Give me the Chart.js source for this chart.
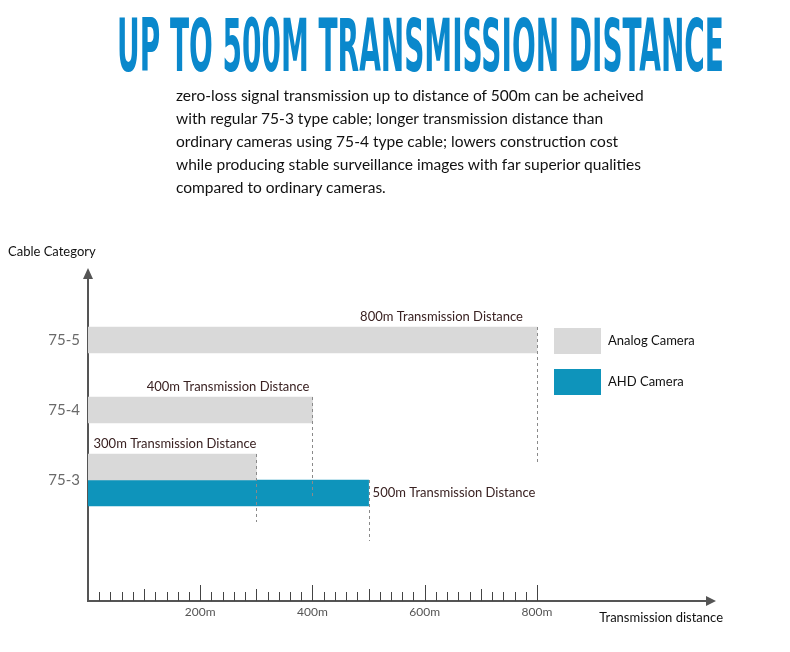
<!DOCTYPE html>
<html>
<head>
<meta charset="utf-8">
<script src="https://cdn.jsdelivr.net/npm/chart.js@4.4.1/dist/chart.umd.min.js"></script>
<style>
  html, body { margin: 0; padding: 0; background: #fff; }
  #page { position: relative; width: 790px; height: 652px; overflow: hidden; }
  #chart { position: absolute; left: 0; top: 0; }
  #headline {
    position: absolute; left: 117px; top: 9px; white-space: nowrap;
    font: bold 73px 'Liberation Sans Narrow', 'DejaVu Sans Condensed', sans-serif;
    line-height: 73px; color: #0a88cc;
    transform-origin: 0 0;
  }
  #blurb { position: absolute; left: 176px; top: 84px; color: #111; font-family: Lato, sans-serif; }
  #blurb div { white-space: nowrap; height: 23px; line-height: 23px; }
</style>
</head>
<body>
<div id="page">
  <canvas id="chart" width="790" height="652"></canvas>
  <div id="headline">UP TO 500M TRANSMISSION DISTANCE</div>
  <div id="blurb">
    <div>zero-loss signal transmission up to distance of 500m can be acheived</div>
    <div>with regular 75-3 type cable; longer transmission distance than</div>
    <div>ordinary cameras using 75-4 type cable; lowers construction cost</div>
    <div>while producing stable surveillance images with far superior qualities</div>
    <div>compared to ordinary cameras.</div>
  </div>
</div>
<script>
// chart values
const categories = ['75-5', '75-4', '75-3'];
const analogDistance = [800, 400, 300];
const ahdDistance = [null, null, 500];
const seriesNames = ['Analog Camera', 'AHD Camera'];
const distanceTicks = [200, 400, 600, 800];

const GREY = '#d9d9d9';
const TEAL = '#0e94bb';
const AXIS = '#555';
const FONT = 'Lato, sans-serif';

// squeeze the headline into its box, like a condensed display face
const head = document.getElementById('headline');
head.style.transform = `scaleX(${607 / head.offsetWidth})`;

// fit the paragraph font so the first line spans the same width
const probe = document.createElement('canvas').getContext('2d');
probe.font = '16px Lato';
const firstLine = document.querySelector('#blurb div').textContent;
document.getElementById('blurb').style.fontSize = (16 * 468 / probe.measureText(firstLine).width).toFixed(2) + 'px';

// arrows, minor ticks, guides, bar captions, legend and axis titles
const decor = {
    id: 'decor',
    afterDraw(chart, args, opts) {
        const { ctx, chartArea: a, scales: { x } } = chart;
        ctx.save();

        // arrowheads
        ctx.fillStyle = AXIS;
        ctx.beginPath();
        ctx.moveTo(a.left, a.top - 10);
        ctx.lineTo(a.left - 5, a.top + 1);
        ctx.lineTo(a.left + 5, a.top + 1);
        ctx.fill();
        ctx.beginPath();
        ctx.moveTo(a.right + 9, a.bottom);
        ctx.lineTo(a.right - 1, a.bottom - 5);
        ctx.lineTo(a.right - 1, a.bottom + 5);
        ctx.fill();

        // tick marks pointing up into the plot
        ctx.strokeStyle = '#444';
        ctx.lineWidth = 1;
        const last = Math.max(...distanceTicks);
        for (let v = 20; v <= last; v += 20) {
            const px = Math.round(x.getPixelForValue(v)) + 0.5;
            const len = v % 200 === 0 ? 16 : v % 100 === 0 ? 12 : 9;
            ctx.beginPath();
            ctx.moveTo(px, a.bottom);
            ctx.lineTo(px, a.bottom - len);
            ctx.stroke();
        }

        // dashed guides + captions
        ctx.font = `13px ${FONT}`;
        ctx.textBaseline = 'middle';
        chart.data.datasets.forEach((ds, di) => {
            chart.getDatasetMeta(di).data.forEach((el, i) => {
                const val = ds.data[i].x;
                if (val == null) return;
                const { x: ex, y: ey, height: h } = el.getProps(['x', 'y', 'height'], true);
                const px = Math.round(ex) + 0.5;
                ctx.setLineDash([3, 3]);
                ctx.strokeStyle = '#8a8a8a';
                ctx.beginPath();
                ctx.moveTo(px, ey - h / 2);
                ctx.lineTo(px, ey + h / 2 + opts.guideDrop[di][i]);
                ctx.stroke();
                ctx.setLineDash([]);

                ctx.fillStyle = '#3a2222';
                const text = `${val}m Transmission Distance`;
                if (di === 0) {
                    ctx.textAlign = 'right';
                    ctx.fillText(text, ex - opts.captionInset[i], ey - h / 2 - 10);
                } else {
                    ctx.textAlign = 'left';
                    ctx.fillText(text, ex + 4, ey);
                }
            });
        });

        // legend
        ctx.textAlign = 'left';
        chart.data.datasets.forEach((ds, di) => {
            const top = opts.legendY + di * 41;
            ctx.fillStyle = ds.backgroundColor;
            ctx.fillRect(opts.legendX, top, 47, 26);
            ctx.fillStyle = '#111';
            ctx.fillText(ds.label, opts.legendX + 54, top + 13);
        });

        // axis titles
        ctx.fillText('Cable Category', 8, a.top - 26);
        ctx.textAlign = 'right';
        ctx.fillText('Transmission distance', a.right + 16, a.bottom + 17);
        ctx.restore();
    }
};

new Chart(document.getElementById('chart'), {
    type: 'bar',
    data: {
        datasets: [
            {
                label: seriesNames[0],
                data: analogDistance.map((v, i) => ({ x: v, y: i })),
                backgroundColor: GREY
            },
            {
                label: seriesNames[1],
                data: ahdDistance.map((v, i) => ({ x: v, y: i })),
                backgroundColor: TEAL
            }
        ]
    },
    options: {
        indexAxis: 'y',
        responsive: false,
        animation: false,
        devicePixelRatio: 1,
        layout: { padding: { top: 278, right: 83, left: 0, bottom: 0 } },
        datasets: { bar: { barThickness: 26, skipNull: true, borderWidth: 0 } },
        plugins: {
            legend: { display: false },
            tooltip: { enabled: false },
            decor: {
                legendX: 554,
                legendY: 328,
                captionInset: [14, 3, 0],
                guideDrop: [[110, 76, 42], [0, 0, 35]]
            }
        },
        scales: {
            x: {
                type: 'linear',
                min: 0,
                max: 1103,
                afterFit: (s) => { s.height = 51; },
                grid: { display: false, drawTicks: false },
                border: { color: AXIS, width: 2 },
                ticks: {
                    stepSize: 200,
                    padding: 4,
                    autoSkip: false,
                    maxRotation: 0,
                    color: '#555',
                    font: { family: FONT, size: 12 },
                    callback: (v) => distanceTicks.includes(v) ? v + 'm' : ''
                }
            },
            y: {
                type: 'linear',
                reverse: true,
                offset: false,
                min: -0.886,
                max: 3.729,
                afterFit: (s) => { s.width = 88; },
                grid: { display: false, drawTicks: false, offset: false },
                border: { color: AXIS, width: 2 },
                ticks: {
                    stepSize: 1,
                    padding: 8,
                    color: '#6a6a6a',
                    font: { family: FONT, size: 15 },
                    callback: (v) => categories[v] ?? ''
                }
            }
        }
    },
    plugins: [decor]
});
</script>
</body>
</html>
